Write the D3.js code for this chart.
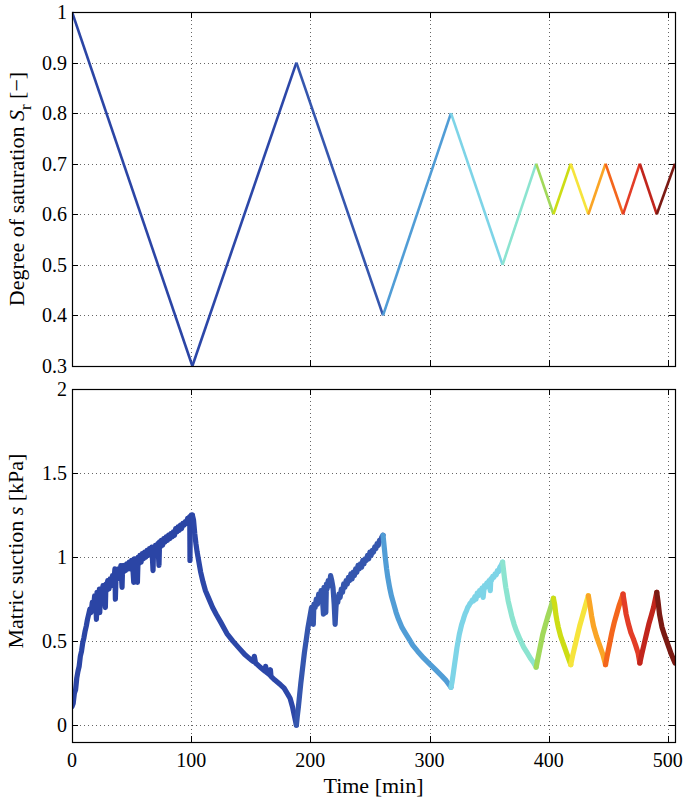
<!DOCTYPE html>
<html>
<head>
<meta charset="utf-8">
<script src="https://cdn.jsdelivr.net/npm/d3@7"></script>
<style>
  body { margin: 0; background: #fff; }
</style>
</head>
<body>
<svg id="chart" width="685" height="803"></svg>
<script>
// time breakpoints [min] and degree of saturation at each one
const cycleTimes = [0, 101, 188.3, 261, 318, 361.3, 389.5, 404, 418.5, 433.3, 447.7, 462.4, 476.5, 490.7, 506];
const satValues = [1, 0.3, 0.9, 0.4, 0.8, 0.5, 0.7, 0.6, 0.7, 0.6, 0.7, 0.6, 0.7, 0.6, 0.7];

// one colour per half cycle (jet-like)
const segColors = ['#2b45a5', '#2c47a8', '#3556ae', '#519dd6', '#7dd4e7', '#8ce4d0', '#a2d95b',
  '#cddd15', '#f6e43c', '#faa526', '#f4661c', '#e33d27', '#c1251c', '#7b1a13'];

const xTicks = [0, 100, 200, 300, 400, 500];
const satTicks = [0.3, 0.4, 0.5, 0.6, 0.7, 0.8, 0.9, 1];
const suctionTicks = [0, 0.5, 1, 1.5, 2];

// matric suction [kPa], one array per half cycle
const suction1 = [[0,0.11],[1,0.13],[2,0.19],[3,0.21],[4,0.28],[5,0.32],[6,0.35],[7,0.41],[8,0.44],[9,0.49],[10,0.52],
  [11,0.56],[12,0.59],[13,0.63],[14,0.66],[15,0.69],[16,0.67],[17,0.73],[18,0.70],[19,0.77],[20,0.72],[20.5,0.63],
  [21,0.79],[22,0.74],[23,0.81],[23.3,0.67],[24,0.80],[25,0.76],[26,0.83],[27,0.78],[28,0.70],[28.5,0.84],[29,0.80],
  [30,0.86],[31,0.81],[32,0.87],[33,0.83],[34,0.89],[35,0.84],[36,0.93],[36.4,0.75],[37,0.90],[38,0.87],[39,0.93],
  [40,0.88],[41,0.95],[42,0.82],[42.5,0.95],[43,0.91],[44,0.95],[45,0.92],[46,0.96],[47,0.93],[48,0.97],[49,0.93],
  [50,0.98],[51,0.94],[51.8,0.85],[52.3,0.99],[53,0.95],[54,0.99],[54.9,0.85],[55.5,1.00],[56,0.96],[57,1.01],
  [58,0.97],[59,1.02],[60,0.99],[61,1.03],[62,1.00],[63,1.04],[64,1.01],[65,1.05],[66,1.02],[67,1.06],[68,0.92],
  [68.5,1.06],[69,1.03],[70,1.07],[71,1.04],[72,1.08],[73,0.95],[73.5,1.09],[74,1.06],[75,1.10],[76,1.07],[77,1.11],
  [78,1.09],[79,1.12],[80,1.10],[81,1.13],[82,1.11],[83,1.14],[84,1.12],[85,1.15],[86,1.13],[87,1.17],[88,1.15],
  [89,1.18],[90,1.16],[91,1.19],[92,1.17],[93,1.20],[94,1.19],[95,1.21],[96,1.20],[97,1.23],[98,1.22],[98.8,1.24],
  [99,0.98],[99.3,1.24],[100,1.25],[101,1.25]];
const suction2 = [[101,1.25],[102,1.22],[103,1.14],[104,1.08],[105,1.03],[106,0.99],[108,0.91],[110,0.85],[112,0.80],
  [115,0.75],[118,0.70],[121,0.66],[125,0.61],[130,0.545],[135,0.50],[140,0.46],[145,0.42],[150,0.39],[152,0.38],
  [153,0.41],[154,0.37],[158,0.345],[162,0.32],[162.5,0.35],[163,0.315],[166,0.30],[166.5,0.33],[167,0.29],
  [170,0.27],[175,0.24],[178,0.22],[181,0.185],[183,0.16],[185,0.11],[186.5,0.06],[188.3,0.0]];
const suction3 = [[188.3,0.0],[189,0.05],[190,0.11],[191,0.18],[192,0.25],[193,0.31],[194,0.37],[195,0.43],[196,0.48],
  [197,0.53],[198,0.58],[199,0.62],[200,0.66],[201,0.70],[202,0.68],[202.5,0.60],[203,0.72],[204,0.70],[205,0.75],
  [206,0.72],[207,0.78],[208,0.74],[209,0.80],[210,0.77],[211,0.66],[211.5,0.82],[212,0.79],[213,0.67],[213.5,0.84],
  [214,0.81],[215,0.86],[216,0.83],[217,0.89],[218,0.86],[219,0.82],[220,0.72],[220.8,0.60],[221.5,0.70],[222,0.74],
  [223,0.73],[224,0.78],[225,0.76],[226,0.81],[227,0.79],[228,0.84],[229,0.82],[230,0.86],[231,0.84],[232,0.88],
  [233,0.86],[234,0.90],[235,0.87],[236,0.91],[237,0.89],[238,0.93],[239,0.91],[240,0.95],[241,0.93],[242,0.96],
  [243,0.94],[244,0.98],[245,0.96],[246,0.99],[247,0.98],[248,1.01],[249,0.99],[250,1.03],[251,1.01],[252,1.04],
  [253,1.03],[254,1.06],[255,1.05],[256,1.08],[257,1.07],[258,1.10],[259,1.10],[260,1.12],[261,1.13]];
const suction4 = [[261,1.13],[262,1.06],[263,0.99],[264,0.93],[265,0.88],[266.5,0.82],[268,0.77],[270,0.72],[272,0.67],
  [274,0.63],[277,0.58],[280,0.545],[283,0.51],[286,0.475],[290,0.44],[295,0.40],[300,0.365],[305,0.33],[310,0.295],
  [314,0.265],[318,0.225]];
const suction5 = [[318,0.225],[319,0.26],[320,0.31],[321,0.36],[322,0.41],[323,0.46],[324,0.50],[325,0.54],[326,0.57],
  [327,0.60],[328,0.62],[329,0.645],[330,0.665],[331,0.68],[332,0.70],[333,0.71],[334,0.725],[335,0.73],[336,0.745],
  [337,0.74],[338,0.765],[339,0.75],[340,0.785],[341,0.77],[342,0.80],[343,0.79],[344,0.815],[345,0.76],[346,0.83],
  [347,0.82],[348,0.845],[349,0.83],[350,0.86],[351,0.80],[351.5,0.87],[352,0.86],[353,0.885],[354,0.88],[355,0.90],
  [356,0.895],[357,0.92],[358,0.915],[359,0.94],[360,0.95],[361.3,0.97]];
const suction6 = [[361.3,0.97],[362,0.93],[363,0.87],[364,0.82],[365,0.78],[366,0.74],[367,0.71],[369,0.65],[371,0.60],
  [373,0.56],[376,0.51],[379,0.465],[382,0.43],[385,0.395],[387.5,0.37],[389.5,0.345]];
const suction7 = [[389.5,0.345],[391,0.40],[393,0.47],[395,0.54],[397,0.59],[399,0.64],[401,0.685],[402.5,0.72],[404,0.755]];
const suction8 = [[404,0.755],[405,0.72],[406,0.66],[407,0.62],[408,0.585],[410,0.53],[412,0.49],[414,0.45],[416,0.41],[418.5,0.36]];
const suction9 = [[418.5,0.36],[420,0.41],[422,0.47],[424,0.53],[426,0.59],[428,0.64],[430,0.69],[432,0.74],[433.3,0.77]];
const suction10 = [[433.3,0.77],[434.5,0.72],[436,0.65],[437.6,0.59],[440,0.53],[443,0.47],[445.5,0.42],[447.7,0.36]];
const suction11 = [[447.7,0.36],[449,0.41],[451,0.48],[453,0.55],[455,0.61],[457,0.66],[459,0.71],[461,0.75],[462.4,0.78]];
const suction12 = [[462.4,0.78],[463.5,0.73],[465,0.66],[467,0.60],[469,0.55],[471,0.515],[473,0.475],[475,0.43],[476.5,0.37]];
const suction13 = [[476.5,0.37],[478,0.42],[480,0.48],[482,0.54],[484,0.60],[486,0.65],[488,0.70],[489.5,0.75],[490.7,0.79]];
const suction14 = [[490.7,0.79],[491.7,0.74],[493,0.66],[495,0.585],[497,0.54],[499,0.50],[501,0.46],[503,0.42],[506,0.37]];

const suctionSegs = [suction1, suction2, suction3, suction4, suction5, suction6, suction7,
  suction8, suction9, suction10, suction11, suction12, suction13, suction14];

// pick the first serif face the browser really has (measured against a monospace fallback)
const pickFont = () => {
  const ctx = document.createElement('canvas').getContext('2d');
  const sample = 'Degree of saturation 0.123456789 [kPa]';
  const widthOf = f => { ctx.font = '40px ' + f; return ctx.measureText(sample).width; };
  const candidates = ['Liberation Serif', 'Times New Roman', 'Tinos', 'Times', 'DejaVu Serif', 'Noto Serif', 'FreeSerif', 'Nimbus Roman'];
  for (const c of candidates) {
    const w1 = widthOf(`"${c}", monospace`);
    const w2 = widthOf(`"${c}", sans-serif`);
    if (w1 === w2 && w1 !== widthOf('monospace')) return `"${c}", serif`;
  }
  return 'serif';
};
const FONT = pickFont();

const svg = d3.select('#chart').style('font-family', FONT);
const left = 72, right = 675;
const topPanel = { top: 12, bottom: 366 };
const botPanel = { top: 389, bottom: 742 };
const tickLen = 6;

const x = d3.scaleLinear().domain([0, 506]).range([left, right]);
const ySat = d3.scaleLinear().domain([0.3, 1]).range([topPanel.bottom, topPanel.top]);
const ySuc = d3.scaleLinear().domain([-0.1, 2]).range([botPanel.bottom, botPanel.top]);

svg.append('defs').append('clipPath').attr('id', 'clipTop')
  .append('rect').attr('x', left).attr('y', topPanel.top - 2).attr('width', right - left).attr('height', topPanel.bottom - topPanel.top + 4);
svg.select('defs').append('clipPath').attr('id', 'clipBot')
  .append('rect').attr('x', left).attr('y', botPanel.top).attr('width', right - left).attr('height', botPanel.bottom - botPanel.top);

// grid + ticks + box for one panel
function drawFrame(panel, y, yTicks, showX) {
  const g = svg.append('g');
  const grid = g.append('g')
    .attr('stroke', '#666').attr('stroke-width', 1).attr('stroke-dasharray', '1,3');
  xTicks.filter(t => t > 0).forEach(t => {
    grid.append('line')
      .attr('x1', Math.round(x(t)) + 0.5).attr('x2', Math.round(x(t)) + 0.5)
      .attr('y1', panel.top).attr('y2', panel.bottom);
  });
  yTicks.forEach(v => {
    grid.append('line')
      .attr('x1', left).attr('x2', right)
      .attr('y1', Math.round(y(v)) + 0.5).attr('y2', Math.round(y(v)) + 0.5);
  });

  const ticks = g.append('g').attr('stroke', '#000').attr('stroke-width', 1);
  xTicks.forEach(t => {
    const xx = Math.round(x(t)) + 0.5;
    ticks.append('line').attr('x1', xx).attr('x2', xx).attr('y1', panel.bottom).attr('y2', panel.bottom - tickLen);
    ticks.append('line').attr('x1', xx).attr('x2', xx).attr('y1', panel.top).attr('y2', panel.top + tickLen);
  });
  yTicks.forEach(v => {
    const yy = Math.round(y(v)) + 0.5;
    ticks.append('line').attr('x1', left).attr('x2', left + tickLen).attr('y1', yy).attr('y2', yy);
    ticks.append('line').attr('x1', right).attr('x2', right - tickLen).attr('y1', yy).attr('y2', yy);
  });

  g.selectAll('.ylab').data(yTicks).join('text')
    .attr('x', left - 5).attr('y', d => y(d))
    .attr('dy', '0.35em').attr('text-anchor', 'end')
    .style('font-family', FONT).attr('font-size', 20).text(d => d);

  if (showX) {
    g.selectAll('.xlab').data(xTicks).join('text')
      .attr('x', d => x(d)).attr('y', panel.bottom + 25)
      .attr('text-anchor', 'middle').style('font-family', FONT).attr('font-size', 20).text(d => d);
  }
  return g;
}

drawFrame(topPanel, ySat, satTicks, false);
drawFrame(botPanel, ySuc, suctionTicks, true);

// degree of saturation
const satPts = cycleTimes.map((t, i) => [t, satValues[i]]);
const lineSat = d3.line().x(d => x(d[0])).y(d => ySat(d[1]));
svg.append('g').attr('clip-path', 'url(#clipTop)')
  .selectAll('path').data(segColors).join('path')
  .attr('d', (c, i) => lineSat([satPts[i], satPts[i + 1]]))
  .attr('fill', 'none').attr('stroke', c => c).attr('stroke-width', 2.6);

// matric suction
const lineSuc = d3.line().x(d => x(d[0])).y(d => ySuc(d[1]));
svg.append('g').attr('clip-path', 'url(#clipBot)')
  .selectAll('path').data(suctionSegs).join('path')
  .attr('d', d => lineSuc(d))
  .attr('fill', 'none').attr('stroke', (d, i) => segColors[i])
  .attr('stroke-width', 5.2).attr('stroke-linejoin', 'round').attr('stroke-linecap', 'round');

// boxes on top
[topPanel, botPanel].forEach(p => {
  svg.append('rect').attr('x', left + 0.5).attr('y', p.top + 0.5)
    .attr('width', right - left).attr('height', p.bottom - p.top)
    .attr('fill', 'none').attr('stroke', '#000').attr('stroke-width', 1.2);
});

// axis titles
const satTitle = svg.append('text')
  .attr('transform', `translate(24, ${(topPanel.top + topPanel.bottom) / 2}) rotate(-90)`)
  .attr('text-anchor', 'middle').style('font-family', FONT).attr('font-size', 22);
satTitle.append('tspan').text('Degree of saturation ');
satTitle.append('tspan').attr('font-style', 'italic').text('S');
satTitle.append('tspan').attr('font-size', 17).attr('dy', 7).text('r');
satTitle.append('tspan').attr('dy', -7).text(' [\u2212]');

const sucTitle = svg.append('text')
  .attr('transform', `translate(23, 551) rotate(-90)`)
  .attr('text-anchor', 'middle').style('font-family', FONT).attr('font-size', 22);
sucTitle.append('tspan').text('Matric suction ');
sucTitle.append('tspan').attr('font-style', 'italic').text('s');
sucTitle.append('tspan').text(' [kPa]');

svg.append('text')
  .attr('x', (left + right) / 2).attr('y', 793)
  .attr('text-anchor', 'middle').style('font-family', FONT).attr('font-size', 22)
  .text('Time [min]');
</script>
</body>
</html>
